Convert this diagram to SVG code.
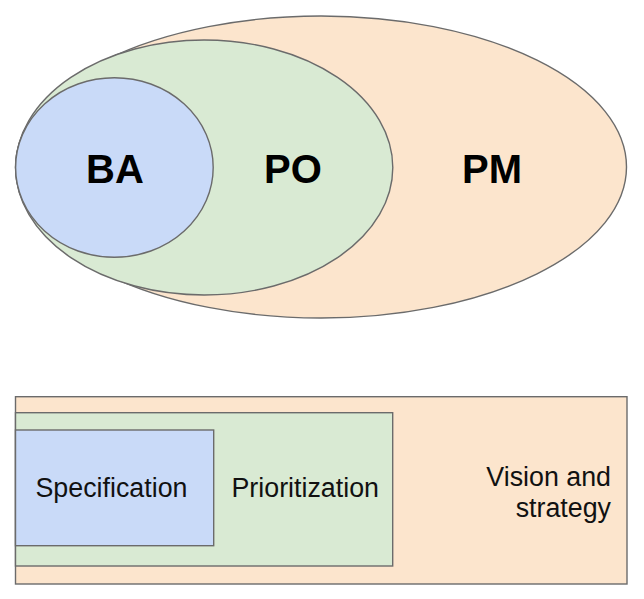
<svg xmlns="http://www.w3.org/2000/svg" width="644" height="599" viewBox="0 0 644 599">
<style>
.s{stroke:#6b6b6b;stroke-width:1.4}
.pm{fill:#fce5cd}
.po{fill:#d9ead3}
.ba{fill:#c9daf8}
.big{font-family:"Liberation Sans",Arial,sans-serif;font-weight:bold;font-size:40px;fill:#000;text-anchor:middle}
.lbl{font-family:"Liberation Sans",Arial,sans-serif;font-size:26.8px;fill:#111}
</style>
<rect width="644" height="599" fill="#ffffff"/>
<g id="venn">
<g id="pm-ellipse"><ellipse class="pm s" cx="321" cy="167" rx="305.5" ry="151"/><text class="big" x="492" y="183">PM</text></g>
<g id="po-ellipse"><ellipse class="po s" cx="204.2" cy="167.5" rx="188.6" ry="127.5"/><text class="big" x="293" y="183">PO</text></g>
<g id="ba-circle"><ellipse class="ba s" cx="114.4" cy="167.5" rx="98.8" ry="89.8"/><text class="big" x="115" y="183">BA</text></g>
</g>
<g id="boxes">
<g id="pm-box"><rect class="pm s" x="15.5" y="396.7" width="611.5" height="187.3"/><text class="lbl" text-anchor="end" x="611" y="486">Vision and</text><text class="lbl" text-anchor="end" x="611" y="517">strategy</text></g>
<g id="po-box"><rect class="po s" x="15.5" y="412.7" width="377.2" height="153.3"/><text class="lbl" x="231.5" y="497">Prioritization</text></g>
<g id="ba-box"><rect class="ba s" x="15.5" y="430" width="198.2" height="115.7"/><text class="lbl" x="35.5" y="497">Specification</text></g>
</g>
<g id="connectors"/>
</svg>
